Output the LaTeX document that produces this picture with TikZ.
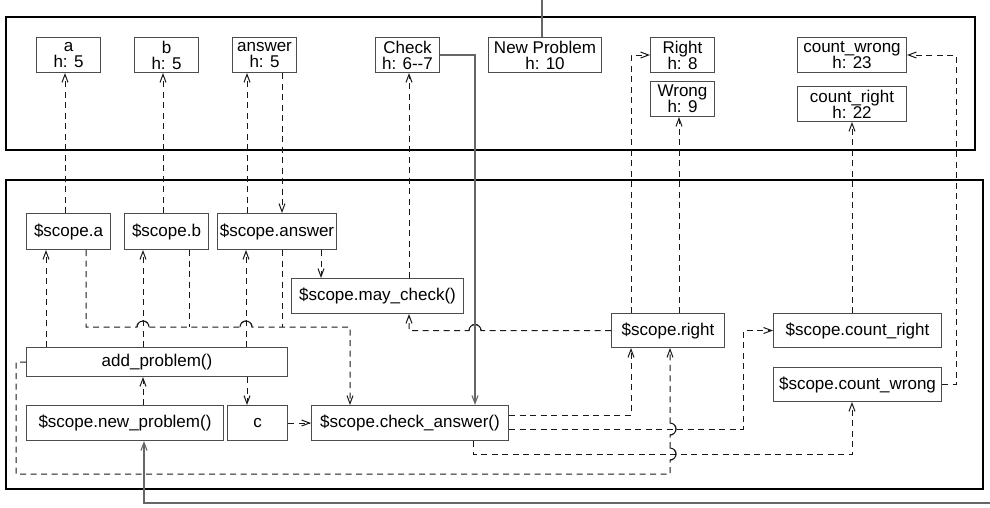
\documentclass[tikz,border=0pt]{standalone}
\usepackage{fontspec}
\setmainfont{Liberation Sans}
\usetikzlibrary{arrows.meta,calc}
\colorlet{box edge}{black!70}
\colorlet{link line}{black!90}
\colorlet{wire line}{black!60}
\tikzset{box/.style={draw=box edge, line width=1pt, anchor=north west, inner sep=1pt,
		align=center, minimum width=64pt, minimum height=35pt, font=\fontsize{17}{16}\selectfont},
	dep/.style={draw=link line, line width=1pt, dash pattern=on 6pt off 4.5pt,
		-{Straight Barb[length=8pt,width=6pt]}},
	hop/.style={draw=link line, line width=1pt},
	wire/.style={draw=wire line, line width=1.1pt, -{Straight Barb[length=8pt,width=6pt]}},
	frame/.style={draw=black, line width=1.6pt}}

\begin{document}
\begin{tikzpicture}[x=1pt,y=-1pt]
		\useasboundingbox (0,0) rectangle (990,507);
		\draw[frame] (6,17) rectangle (975,150);
		\draw[frame] (6,180) rectangle (983,489);
		
		\node[box] (va) at (36,37) {a\\h: 5};
		\node[box] (vb) at (134,37) {b\\h: 5};
		\node[box] (vans) at (232,37) {answer\\h: 5};
		\node[box] (vcheck) at (375,37) {Check\\h: 6-{}-7};
		\node[box, minimum width=113pt] (vnew) at (488,37) {New Problem\\h: 10};
		\node[box] (vright) at (650,37) {Right\\h: 8};
		\node[box] (vwrong) at (650,81) {Wrong\\h: 9};
		\node[box, minimum width=109pt] (vcw) at (797,37) {count\_wrong\\h: 23};
		\node[box, minimum width=109pt] (vcr) at (797,86) {count\_right\\h: 22};
		
		\node[box, minimum width=84pt, minimum height=36pt] (sa) at (26,213) {\$scope.a};
		\node[box, minimum width=84pt, minimum height=36pt] (sb) at (124,213) {\$scope.b};
		\node[box, minimum width=119pt, minimum height=36pt] (sans) at (217,213) {\$scope.answer};
		\node[box, minimum width=172pt] (smay) at (291,278) {\$scope.may\_check()};
		\node[box, minimum width=113pt, minimum height=34pt] (sright) at (611,313) {\$scope.right};
		\node[box, minimum width=168pt, minimum height=34pt] (scr) at (773,313) {\$scope.count\_right};
		\node[box, minimum width=168pt, minimum height=34pt] (scw) at (773,367) {\$scope.count\_wrong};
		\node[box, minimum width=261pt, minimum height=29pt] (addp) at (26,347) {add\_problem()};
		\node[box, minimum width=197pt] (snew) at (26,405) {\$scope.new\_problem()};
		\node[box, minimum width=60pt] (c) at (227,405) {c};
		\node[box, minimum width=197pt] (schk) at (311,405) {\$scope.check\_answer()};
		
		\coordinate (jn) at (350,327);
		\coordinate (extnew) at (542,0);
		\coordinate (extin) at (990,503);
		
		\draw[dep] (sa.north -| 65,0) -- (va.south -| 65,0);
		\draw[dep] (sb.north -| 163,0) -- (vb.south -| 163,0);
		\draw[dep] (sans.north -| 247,0) -- (vans.south -| 247,0);
		\draw[dep] (vans.south -| 282,0) -- (sans.north -| 282,0);
		\draw[dep] (smay.north -| 409,0) -- (vcheck.south -| 409,0);
		\draw[dep] (sright.north -| 631,0) |- (vright.west);
		\draw[dep] (sright.north -| 679,0) -- (vwrong.south -| 679,0);
		\draw[dep] (scr.north -| 852,0) -- (vcr.south -| 852,0);
		\draw[dep] (scw.east) -- ++(14,0) |- (vcw.east);
		
		\draw[dep] (addp.north -| 46,0) -- (sa.south -| 46,0);
		\draw[dep] (addp.north -| 143,0) -- (sb.south -| 143,0);
		\draw[dep] (addp.north -| 246,0) -- (sans.south -| 246,0);
		\draw[dep] (sa.south -| 86,0) -- (86,0 |- jn) -- (137,0 |- jn)
			arc[start angle=180, end angle=360, radius=6] -- (240,0 |- jn)
			arc[start angle=180, end angle=360, radius=6] -- (jn) -- (schk.north -| jn);
		\draw[hop] (137,0 |- jn) arc[start angle=180, end angle=360, radius=6];
		\draw[hop] (240,0 |- jn) arc[start angle=180, end angle=360, radius=6];
		\draw[dep,-] (sb.south -| 189,0) -- (189,0 |- jn);
		\draw[dep,-] (sans.south -| 282,0) -- (282,0 |- jn);
		\draw[dep] (sans.south -| 321,0) -- (smay.north -| 321,0);
		\draw[dep] (sright.west) -- (sright.west -| 481,0)
			arc[start angle=0, end angle=-180, radius=6] -| (smay.south -| 409,0);
		\draw[hop] (sright.west -| 481,0) arc[start angle=0, end angle=-180, radius=6];
		\draw[dep] (addp.south -| 247,0) -- (c.north -| 247,0);
		\draw[dep] (c.east) -- (schk.west);
		\draw[dep] (snew.north -| 143,0) -- (addp.south -| 143,0);
		\draw[dep] (addp.west) -- ++(-10,0) |- (670,474) -- (670,460)
			arc[start angle=90, end angle=-90, radius=6] -- (670,435)
			arc[start angle=90, end angle=-90, radius=6] -- (sright.south -| 670,0);
		\draw[hop] (670,460) arc[start angle=90, end angle=-90, radius=6];
		\draw[hop] (670,435) arc[start angle=90, end angle=-90, radius=6];
		\draw[dep] (schk.east |- 0,415) -| (sright.south -| 631,0);
		\draw[dep] (schk.east |- 0,429) -- (743,429) |- (scr.west);
		\draw[dep] (schk.south -| 473,0) |- (852,454) -- (scw.south -| 852,0);
		
		\draw[wire] (vcheck.east) -| (schk.north -| 475,0);
		\draw[wire,-] (vnew.north -| extnew) -- (extnew);
		\draw[wire] (extin) -| (snew.south -| 144,0);
	\end{tikzpicture}
\end{document}
